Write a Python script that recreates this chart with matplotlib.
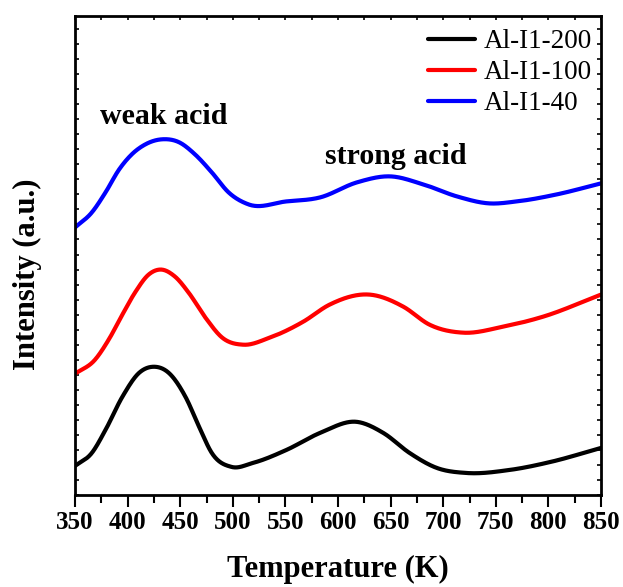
import matplotlib
matplotlib.use("Agg")
import matplotlib.pyplot as plt
from matplotlib.ticker import MultipleLocator, NullFormatter
import numpy as np

# temperature (K) and intensity (a.u., arbitrary offsets)
t_200 = [350, 366, 379, 395, 411, 425, 439, 455, 468, 480, 499, 519, 551, 583, 618, 643,
         668, 694, 722, 763, 802, 850]
i_200 = [29, 42, 65, 98, 122, 128, 122, 98, 68, 42, 28, 32, 45, 62, 73, 62,
         42, 27, 22, 25, 33, 47]

t_100 = [350, 369, 382, 395, 407, 420, 431, 445, 458, 474, 490, 510, 535, 567, 592, 630,
         662, 687, 719, 757, 795, 850]
i_100 = [121, 135, 155, 180, 202, 220, 225, 218, 202, 177, 157, 150, 157, 173, 190, 200,
         188, 170, 162, 168, 178, 200]

t_40 = [350, 366, 379, 392, 404, 417, 433, 449, 464, 480, 496, 515, 551, 583, 618, 649,
        681, 713, 744, 770, 808, 850]
i_40 = [267, 282, 302, 325, 340, 350, 355, 352, 340, 322, 302, 290, 293, 297, 312, 318,
        310, 298, 291, 293, 300, 311]

series = [("Al-I1-200", t_200, i_200, "black"),
          ("Al-I1-100", t_100, i_100, "red"),
          ("Al-I1-40", t_40, i_40, "blue")]


def hermite(x, y, xs):
    # cubic hermite through the read points, slopes from neighbours
    x = np.asarray(x, float)
    y = np.asarray(y, float)
    m = np.gradient(y, x)
    idx = np.clip(np.searchsorted(x, xs) - 1, 0, len(x) - 2)
    h = x[idx + 1] - x[idx]
    s = (xs - x[idx]) / h
    h00 = 2 * s**3 - 3 * s**2 + 1
    h10 = s**3 - 2 * s**2 + s
    h01 = -2 * s**3 + 3 * s**2
    h11 = s**3 - s**2
    return h00 * y[idx] + h10 * h * m[idx] + h01 * y[idx + 1] + h11 * h * m[idx + 1]


plt.rcParams['font.family'] = ['Liberation Serif', 'DejaVu Serif']

fig = plt.figure(figsize=(6.23, 5.87), dpi=100)
ax = fig.add_axes([0.1204, 0.1567, 0.8443, 0.816])

tt = np.linspace(350, 850, 800)
for name, t, i, c in series:
    ax.plot(tt, hermite(t, i, tt), color=c, lw=3, label=name, solid_capstyle="round")

ax.set_xlim(350, 850)
ax.set_ylim(0, 478)
ax.xaxis.set_major_locator(MultipleLocator(50))
ax.xaxis.set_minor_locator(MultipleLocator(25))
ax.yaxis.set_major_locator(MultipleLocator(15))
ax.yaxis.set_major_formatter(NullFormatter())
ax.tick_params(axis="x", which="major", direction="out", length=8.5, width=1.5,
               top=False, labelsize=18, pad=3)
ax.tick_params(axis="x", which="minor", direction="out", length=5.5, width=1.5, top=False)
ax.tick_params(axis="y", which="major", direction="in", length=3, width=1.2,
               left=True, right=True)
sec = ax.secondary_xaxis("top")
sec.xaxis.set_major_locator(MultipleLocator(25))
sec.xaxis.set_major_formatter(NullFormatter())
sec.tick_params(direction="in", length=3, width=1.2, labeltop=False)
sec.spines["top"].set_visible(False)
for s in ax.spines.values():
    s.set_linewidth(2)
for lab in ax.get_xticklabels():
    lab.set_fontweight("bold")

ax.set_xlabel("Temperature (K)", fontsize=22, fontweight="bold", labelpad=15)
ax.set_ylabel("Intensity (a.u.)", fontsize=22, fontweight="bold")
ax.yaxis.set_label_coords(-0.063, 0.46)

ax.text(0.048, 0.79, "weak acid", transform=ax.transAxes, fontsize=21.5, fontweight="bold",
        va="center")
ax.text(0.475, 0.707, "strong acid", transform=ax.transAxes, fontsize=21.5, fontweight="bold",
        va="center")

ax.legend(loc="upper right", frameon=False, fontsize=19.5, handlelength=1.75,
          handletextpad=0.3, labelspacing=0.22, borderaxespad=0.3,
          bbox_to_anchor=(1.018, 1.012))

fig.savefig("out.png", dpi=100)
